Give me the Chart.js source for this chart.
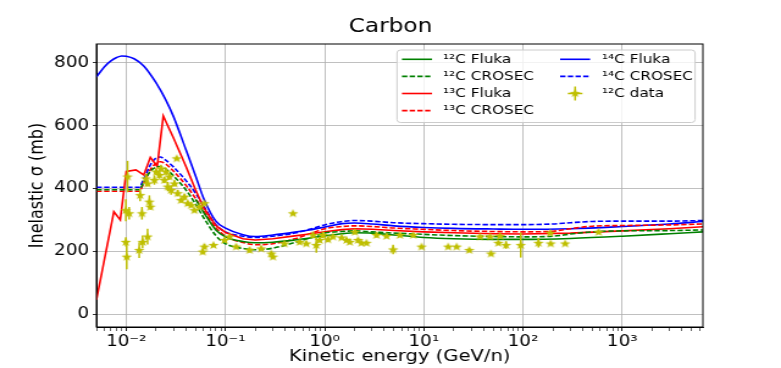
<!DOCTYPE html>
<html>
<head>
<meta charset="utf-8">
<script src="https://cdn.jsdelivr.net/npm/chart.js@4.4.1/dist/chart.umd.min.js"></script>
<style>
  html, body { margin: 0; padding: 0; background: #fff; overflow: hidden; }
  /* the reference figure is squeezed vertically, so draw narrower and stretch */
  #wrap { width: 640px; height: 368px; transform: scaleX(1.2203); transform-origin: 0 0; }
</style>
</head>
<body>
<div id="wrap"><canvas id="chart" width="640" height="368"></canvas></div>
<script>
// --- model curves (energy in GeV/n, sigma in mb) ---
const fluka12E = [0.05, 0.06, 0.08, 0.1, 0.15, 0.2, 0.3, 0.5, 0.7, 1, 1.5, 2, 3, 5, 10, 20, 50, 100, 300, 1000, 3000, 6500];
const fluka12 = [365, 325, 268, 246, 231, 227, 229, 236, 242, 249, 256, 259, 258, 252, 244, 240, 238, 238, 241, 248, 256, 262];

const fluka13E = [0.005, 0.0075, 0.0087, 0.01, 0.0125, 0.015, 0.0175, 0.0205, 0.0236, 0.03, 0.04, 0.05, 0.06, 0.08, 0.1, 0.15, 0.2, 0.3, 0.5, 0.7, 1, 1.5, 2, 3, 5, 10, 20, 50, 100, 300, 1000, 3000, 6500];
const fluka13 = [45, 326, 300, 454, 459, 443, 499, 470, 631, 560, 470, 395, 340, 282, 260, 240, 236, 240, 249, 255, 262, 269, 272, 270, 266, 262, 259, 256, 255, 258, 265, 272, 278];

const fluka14E = [0.005, 0.006, 0.007, 0.008, 0.009, 0.01, 0.012, 0.015, 0.02, 0.025, 0.03, 0.04, 0.05, 0.06, 0.08, 0.1, 0.15, 0.2, 0.3, 0.5, 0.7, 1, 1.5, 2, 3, 5, 10, 20, 50, 100, 300, 1000, 3000, 6500];
const fluka14 = [755, 787, 806, 817, 822, 821, 813, 790, 736, 682, 628, 523, 440, 370, 296, 274, 253, 247, 252, 261, 268, 277, 288, 290, 287, 281, 276, 273, 271, 270, 272, 279, 287, 295];

const crosecE = [0.005, 0.0135, 0.015, 0.0175, 0.02, 0.022, 0.025, 0.03, 0.04, 0.05, 0.06, 0.08, 0.1, 0.15, 0.2, 0.3, 0.5, 0.7, 1, 1.5, 2, 3, 5, 10, 20, 50, 100, 200, 300, 500, 1000, 3000, 6500];
const crosec12 = [396, 396, 420, 455, 468, 470, 462, 440, 395, 350, 308, 250, 224, 209, 205, 210, 228, 242, 258, 263, 265, 262, 258, 254, 250, 247, 246, 248, 255, 262, 265, 266, 268];
const crosec13 = [391, 391, 417, 460, 480, 485, 478, 455, 410, 368, 330, 275, 248, 228, 221, 224, 240, 255, 272, 279, 281, 279, 274, 270, 266, 263, 262, 264, 272, 280, 282, 284, 287];
const crosec14 = [404, 404, 430, 475, 497, 500, 490, 468, 425, 385, 345, 285, 262, 248, 244, 248, 258, 270, 284, 295, 298, 296, 291, 288, 286, 285, 285, 287, 291, 295, 296, 296, 298];

// --- 12C measurements ---
const dataE = [0.0103, 0.0099, 0.0107, 0.0099, 0.0101, 0.0135, 0.0146, 0.0164, 0.0138, 0.0144, 0.0171, 0.0175, 0.0158, 0.0164, 0.0192, 0.0200, 0.0216, 0.0224, 0.0242, 0.0252, 0.0262, 0.0272, 0.0283, 0.0306, 0.0322, 0.0330, 0.0357, 0.0386, 0.0416, 0.0451, 0.0487, 0.0546, 0.0613, 0.0590, 0.0613, 0.0757, 0.0977, 0.110, 0.128, 0.175, 0.229, 0.290, 0.301, 0.394, 0.479, 0.559, 0.653, 0.762, 0.824, 0.890, 0.962, 1.08, 1.21, 1.48, 1.66, 1.79, 2.01, 2.17, 2.35, 2.64, 3.33, 4.20, 4.90, 5.73, 7.80, 9.48, 17.6, 21.4, 28.7, 36.8, 46.5, 47.5, 56.4, 58.6, 67.3, 94.8, 143, 188, 190, 266, 577];
const dataSigma = [438, 331, 321, 230, 183, 204, 230, 247, 379, 321, 358, 342, 432, 416, 427, 454, 443, 464, 427, 454, 406, 438, 395, 416, 496, 385, 363, 374, 353, 347, 331, 342, 353, 199, 215, 220, 236, 247, 215, 204, 209, 193, 183, 225, 321, 230, 225, 252, 220, 236, 252, 238, 247, 244, 236, 230, 262, 236, 227, 227, 252, 249, 206, 252, 252, 215, 215, 215, 204, 247, 247, 193, 227, 249, 220, 220, 227, 259, 225, 225, 262];
const dataErr = [50, 35, 20, 15, 40, 25, 20, 25, 20, 20, 20, 10, 15, 10, 15, 10, 12, 10, 10, 12, 15, 10, 15, 10, 5, 10, 8, 8, 8, 6, 6, 6, 5, 8, 8, 5, 6, 5, 6, 8, 6, 6, 6, 5, 4, 6, 6, 10, 25, 8, 10, 8, 6, 6, 6, 6, 8, 6, 6, 6, 8, 5, 15, 5, 5, 5, 5, 5, 6, 5, 5, 6, 5, 5, 12, 40, 15, 5, 5, 5, 5];

const seriesLabels = ['¹²C Fluka', '¹²C CROSEC', '¹³C Fluka', '¹³C CROSEC', '¹⁴C Fluka', '¹⁴C CROSEC', '¹²C data'];
const yTicks = [0, 200, 400, 600, 800];

const GREEN = '#008000', RED = '#ff0000', BLUE = '#0000ff', OLIVE = '#bfbf00';
const DASH = [4.4, 1.9];

const pts = (xs, ys) => xs.map((x, i) => ({ x: x, y: ys[i] }));
const isDecade = v => Math.abs(Math.log10(v) - Math.round(Math.log10(v))) < 1e-6;
const SUP = { '-': '⁻', '0': '⁰', '1': '¹', '2': '²', '3': '³', '4': '⁴', '5': '⁵', '6': '⁶', '7': '⁷', '8': '⁸', '9': '⁹' };
const sup = n => String(n).split('').map(c => SUP[c]).join('');

// filled five-point star marker
const star = document.createElement('canvas');
star.width = 10; star.height = 10;
(function () {
    const c = star.getContext('2d');
    c.fillStyle = OLIVE;
    c.beginPath();
    for (let i = 0; i < 10; i++) {
        const r = i % 2 ? 1.9 : 4.6;
        const a = -Math.PI / 2 + i * Math.PI / 5;
        c.lineTo(5 + r * Math.cos(a), 5.4 + r * Math.sin(a));
    }
    c.closePath();
    c.fill();
})();

function curve(label, xs, ys, color, dashed, smooth) {
    return {
        label: label,
        data: pts(xs, ys),
        borderColor: color,
        backgroundColor: color,
        borderWidth: 1.6,
        borderDash: dashed ? DASH : [],
        pointRadius: 0,
        fill: false,
        tension: 0,
        cubicInterpolationMode: smooth ? 'monotone' : 'default'
    };
}

const errorBars = {
    id: 'errorBars',
    beforeDatasetDraw(chart, args) {
        if (args.index !== 6) return;
        const { ctx, chartArea, scales } = chart;
        ctx.save();
        ctx.beginPath();
        ctx.rect(chartArea.left, chartArea.top, chartArea.right - chartArea.left, chartArea.bottom - chartArea.top);
        ctx.clip();
        ctx.strokeStyle = OLIVE;
        ctx.lineWidth = 1.5;
        dataE.forEach((e, i) => {
            const x = scales.x.getPixelForValue(e);
            ctx.beginPath();
            ctx.moveTo(x, scales.y.getPixelForValue(dataSigma[i] - dataErr[i]));
            ctx.lineTo(x, scales.y.getPixelForValue(dataSigma[i] + dataErr[i]));
            ctx.stroke();
        });
        ctx.restore();
    }
};

const frame = {
    id: 'frame',
    afterDatasetsDraw(chart) {
        const { ctx, chartArea: a } = chart;
        ctx.save();
        ctx.strokeStyle = '#000';
        ctx.lineWidth = 1;
        ctx.strokeRect(a.left, a.top, a.right - a.left, a.bottom - a.top);
        ctx.restore();
    }
};

const figTitle = {
    id: 'figTitle',
    afterDraw(chart) {
        const ctx = chart.ctx;
        ctx.save();
        ctx.font = '19px "DejaVu Sans"';
        ctx.fillStyle = '#000';
        ctx.textAlign = 'center';
        ctx.textBaseline = 'alphabetic';
        ctx.fillText('Carbon', chart.width / 2, 32);
        ctx.restore();
    }
};

const boxLegend = {
    id: 'boxLegend',
    afterDraw(chart) {
        const ctx = chart.ctx;
        const bx = 325.3, by = 50, bw = 244.3, bh = 72.5;
        ctx.save();
        ctx.fillStyle = 'rgba(255,255,255,0.8)';
        ctx.strokeStyle = '#cccccc';
        ctx.lineWidth = 1;
        ctx.beginPath();
        ctx.roundRect(bx, by, bw, bh, 3);
        ctx.fill();
        ctx.stroke();

        const rows = [59.3, 76.4, 93.5, 110.6];
        const hx = [329.4, 459];
        const tx = [363, 493.3];
        ctx.font = '12.5px "DejaVu Sans"';
        ctx.textBaseline = 'middle';
        chart.data.datasets.forEach((ds, i) => {
            const col = i < 4 ? 0 : 1;
            const y = rows[i < 4 ? i : i - 4];
            ctx.strokeStyle = ds.borderColor;
            if (ds.showLine === false) {
                const cx = hx[col] + 12.3;
                ctx.lineWidth = 1.5;
                ctx.setLineDash([]);
                ctx.beginPath();
                ctx.moveTo(cx, y - 7); ctx.lineTo(cx, y + 7);
                ctx.moveTo(cx - 6, y); ctx.lineTo(cx + 6, y);
                ctx.stroke();
                ctx.drawImage(star, cx - 5, y - 5.4);
            } else {
                ctx.lineWidth = 1.6;
                ctx.setLineDash(ds.borderDash);
                ctx.beginPath();
                ctx.moveTo(hx[col], y);
                ctx.lineTo(hx[col] + 24.6, y);
                ctx.stroke();
            }
            ctx.setLineDash([]);
            ctx.fillStyle = '#000';
            ctx.fillText(ds.label, tx[col], y);
        });
        ctx.restore();
    }
};

Chart.defaults.font.family = '"DejaVu Sans"';

new Chart(document.getElementById('chart'), {
    type: 'line',
    data: {
        datasets: [
            curve(seriesLabels[0], fluka12E, fluka12, GREEN, false, true),
            curve(seriesLabels[1], crosecE, crosec12, GREEN, true, true),
            curve(seriesLabels[2], fluka13E, fluka13, RED, false, false),
            curve(seriesLabels[3], crosecE, crosec13, RED, true, true),
            curve(seriesLabels[4], fluka14E, fluka14, BLUE, false, true),
            curve(seriesLabels[5], crosecE, crosec14, BLUE, true, true),
            {
                label: seriesLabels[6],
                data: pts(dataE, dataSigma),
                showLine: false,
                borderColor: OLIVE,
                backgroundColor: OLIVE,
                pointStyle: star,
                pointRadius: 4,
                order: -1
            }
        ]
    },
    options: {
        responsive: false,
        animation: false,
        events: [],
        layout: { padding: { left: 0, right: 64, top: 44, bottom: 0 } },
        plugins: {
            legend: { display: false },
            tooltip: { enabled: false },
            title: { display: false }
        },
        scales: {
            x: {
                type: 'logarithmic',
                min: 0.005,
                max: 6500,
                afterBuildTicks: s => {
                    const t = [];
                    for (let k = -3; k <= 3; k++) {
                        for (let n = 1; n <= 9; n++) {
                            const v = n * Math.pow(10, k);
                            if (v >= s.min && v <= s.max) t.push({ value: v });
                        }
                    }
                    s.ticks = t;
                },
                afterFit: s => { s.height = 41; },
                ticks: {
                    autoSkip: false,
                    maxRotation: 0,
                    padding: 2,
                    color: '#000',
                    font: { size: 15 },
                    callback: v => isDecade(v) ? '10' + sup(Math.round(Math.log10(v))) : ''
                },
                grid: {
                    color: c => (c.tick && isDecade(c.tick.value)) ? '#b0b0b0' : 'rgba(0,0,0,0)',
                    lineWidth: 0.8,
                    tickColor: '#000',
                    tickWidth: c => (c.tick && isDecade(c.tick.value)) ? 0.9 : 0.6,
                    tickLength: 4
                },
                border: { color: '#000', width: 1 },
                title: {
                    display: true,
                    text: 'Kinetic energy (GeV/n)',
                    color: '#000',
                    font: { size: 16 },
                    padding: { top: 0, bottom: 1.5 }
                }
            },
            y: {
                min: -41,
                max: 860,
                afterBuildTicks: s => { s.ticks = yTicks.map(v => ({ value: v })); },
                afterFit: s => { s.width = 79; },
                ticks: { color: '#000', font: { size: 15 }, padding: 3 },
                grid: { color: '#b0b0b0', lineWidth: 0.8, tickColor: '#000', tickLength: 3 },
                border: { color: '#000', width: 1 },
                title: {
                    display: true,
                    text: 'Inelastic σ (mb)',
                    color: '#000',
                    font: { size: 16 },
                    padding: { top: 21, bottom: 0 }
                }
            }
        }
    },
    plugins: [errorBars, frame, figTitle, boxLegend]
});
</script>
</body>
</html>
